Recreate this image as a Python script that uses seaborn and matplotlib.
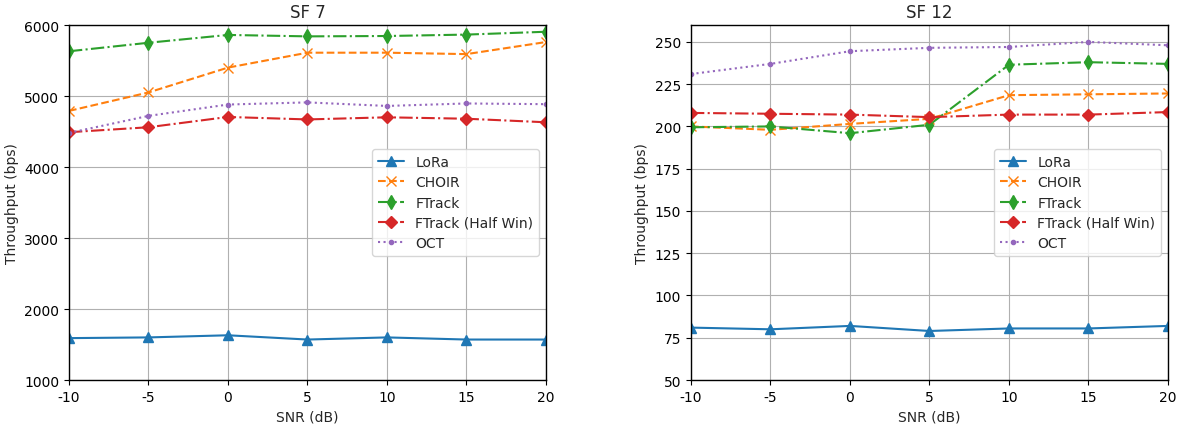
import matplotlib
matplotlib.use("Agg")
import matplotlib.pyplot as plt
import seaborn as sns
import pandas as pd

snr = [-10, -5, 0, 5, 10, 15, 20]
series_names = ["LoRa", "CHOIR", "FTrack", "FTrack (Half Win)", "OCT"]

sf7_lora = [1590, 1600, 1630, 1570, 1600, 1570, 1570]
sf7_choir = [4790, 5050, 5400, 5610, 5610, 5590, 5760]
sf7_ftrack = [5630, 5750, 5860, 5840, 5845, 5865, 5905]
sf7_half = [4490, 4560, 4705, 4670, 4700, 4680, 4630]
sf7_oct = [4480, 4720, 4880, 4910, 4860, 4895, 4885]

sf12_lora = [81, 80, 82, 79, 80.5, 80.5, 82]
sf12_choir = [200, 198, 201.5, 204.5, 218.5, 219, 219.5]
sf12_ftrack = [199.5, 200, 196, 201, 236.5, 238, 237]
sf12_half = [208, 207.5, 207, 205.5, 207, 207, 208.5]
sf12_oct = [231, 237, 244.5, 246.5, 247, 250, 248]

yticks_sf7 = [1000, 2000, 3000, 4000, 5000, 6000]
yticks_sf12 = [50, 75, 100, 125, 150, 175, 200, 225, 250]

sns.set_theme(style="whitegrid")
plt.rcParams["font.family"] = ["DejaVu Sans"]
plt.rcParams["axes.edgecolor"] = "black"
plt.rcParams["grid.color"] = "#b0b0b0"
plt.rcParams["grid.linewidth"] = 0.8

palette = sns.color_palette("tab10")
styles = {
    "LoRa": dict(color=palette[0], linestyle="-", marker="^", ms=7),
    "CHOIR": dict(color=palette[1], linestyle="--", marker="x", ms=7),
    "FTrack": dict(color=palette[2], linestyle="-.", marker="d", ms=7.5),
    "FTrack (Half Win)": dict(color=palette[3], linestyle="-.", marker="D", ms=6.5),
    "OCT": dict(color=palette[4], linestyle=":", marker=".", ms=6),
}

fig = plt.figure(figsize=(11.83, 4.27), dpi=100)
ax1 = fig.add_axes([0.0583, 0.1077, 0.4032, 0.8314])
ax2 = fig.add_axes([0.5841, 0.1077, 0.4032, 0.8314])

def draw(ax, data, title, ylim, yticks):
    for name, vals in zip(series_names, data):
        st = styles[name]
        df = pd.DataFrame({"snr": snr, "val": vals})
        sns.lineplot(data=df, x="snr", y="val", ax=ax, label=name,
                     color=st["color"], linestyle=st["linestyle"],
                     marker=st["marker"], markersize=st["ms"], linewidth=1.5,
                     markeredgecolor=st["color"], markeredgewidth=1.0)
    ax.set_xlim(-10, 20)
    ax.set_ylim(*ylim)
    ax.set_xticks(snr)
    ax.set_xticklabels([str(v) for v in snr])
    ax.set_yticks(yticks)
    ax.set_yticklabels([str(v) for v in yticks])
    ax.set_xlabel("SNR (dB)", fontsize=10)
    ax.set_ylabel("Throughput (bps)", fontsize=10)
    ax.set_title(title, fontsize=12)
    ax.tick_params(axis="both", labelsize=10, length=3.5, width=0.8, colors="black", left=True, bottom=True)
    for s in ax.spines.values():
        s.set_color("black")
        s.set_linewidth(1.0)
    ax.grid(True)
    ax.legend(loc="center right", bbox_to_anchor=(1.0, 0.5), fontsize=10,
              frameon=True, framealpha=0.8, edgecolor="#cccccc", fancybox=True,
              labelspacing=0.45, borderpad=0.4, handlelength=1.9)

draw(ax1, [sf7_lora, sf7_choir, sf7_ftrack, sf7_half, sf7_oct], "SF 7", (1000, 6000), yticks_sf7)
draw(ax2, [sf12_lora, sf12_choir, sf12_ftrack, sf12_half, sf12_oct], "SF 12", (50, 260), yticks_sf12)

fig.savefig("out.png", dpi=100)
